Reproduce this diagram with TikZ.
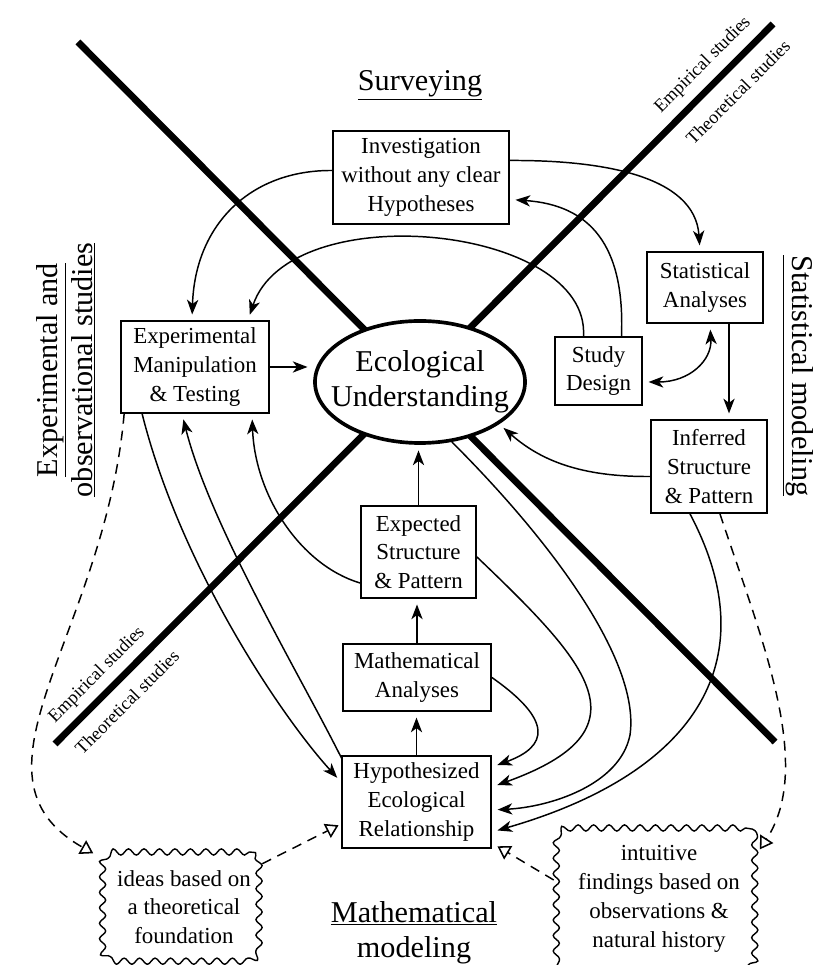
\documentclass[tikz,border=0pt]{standalone}
\usepackage{fontspec}
\setmainfont{Liberation Serif}
\usetikzlibrary{arrows.meta,positioning,shapes.geometric,decorations.pathmorphing}
\newcommand{\boxfont}{\fontsize{16.3}{20.5}\selectfont}
\newcommand{\headfont}{\fontsize{21.5}{25}\selectfont}
\newcommand{\ecofont}{\fontsize{21.5}{25}\selectfont}
\newcommand{\sidefont}{\fontsize{13}{15}\selectfont}

\begin{document}
\begin{tikzpicture}[
  x=0.025cm, y=0.025cm,
  >={Stealth[length=10.5pt,width=8pt,inset=3pt]},
  box/.style={draw,line width=1.2pt,fill=white,align=center,font=\boxfont,inner sep=2pt},
  cloudbox/.style={fill=white,align=center,font=\boxfont,inner sep=2pt,rounded corners=9pt,
    postaction={draw,line width=1pt,sharp corners,decorate,
      decoration={snake,amplitude=2.2pt,segment length=11pt}}},
  heading/.style={font=\headfont,align=center},
  sidelabel/.style={font=\sidefont,rotate=45},
  divider/.style={line width=4.8pt},
  arr/.style={->,line width=1.05pt,shorten >=4pt},
  dasharr/.style={-{Triangle[open,length=9pt,width=11pt,line width=1.1pt]},line width=1.05pt,
    dash pattern=on 7pt off 5pt,shorten >=2pt}
]
  \useasboundingbox (0,0) rectangle (815,965);

  % the two dividing lines
  \draw[divider] (78,923) -- (775,223);
  \draw[divider] (55,221) -- (773,941);

  % headings
  \node[heading] (surv) at (420,880) {\underline{Surveying}};
  \node[heading] (mathmod) at (414,31) {\underline{Mathematical}\\\underline{modeling}};
  \node[heading,rotate=90] (expobs) at (66,595) {\underline{Experimental and}\\\underline{observational studies}};
  \node[heading,rotate=-90] (statmod) at (798,589) {\underline{Statistical modeling}};

  \node[sidelabel] (emp1) at (703,900) {Empirical studies};
  \node[sidelabel] (theo1) at (738,873) {Theoretical studies};
  \node[sidelabel] (emp2) at (97,290) {Empirical studies};
  \node[sidelabel] (theo2) at (127,263) {Theoretical studies};

  % centre
  \node[draw,ellipse,line width=2.6pt,fill=white,font=\ecofont,align=center,
    minimum width=5.25cm,minimum height=3.05cm,inner xsep=-20pt,inner ysep=0pt] (eco) at (420,583)
    {Ecological\\Understanding};

  % boxes
  \node[box,minimum width=4.4cm,minimum height=2.33cm] (inv) at (421,787.5) {Investigation\\without any clear\\Hypotheses};
  \node[box,minimum width=3.7cm,minimum height=2.3cm] (exp) at (195,598) {Experimental\\Manipulation\\\& Testing};
  \node[box,minimum width=2.18cm,minimum height=1.7cm] (sd) at (598.5,594) {Study\\Design};
  \node[box,minimum width=2.9cm,minimum height=1.78cm] (sa) at (705,677.5) {Statistical\\Analyses};
  \node[box,minimum width=2.9cm,minimum height=2.33cm] (isp) at (709,498.5) {Inferred\\Structure\\\& Pattern};
  \node[box,minimum width=2.88cm,minimum height=2.3cm] (esp) at (418.5,413) {Expected\\Structure\\\& Pattern};
  \node[box,minimum width=3.7cm,minimum height=1.68cm] (ma) at (417,287.5) {Mathematical\\Analyses};
  \node[box,minimum width=3.73cm,minimum height=2.3cm] (her) at (416.5,163) {Hypothesized\\Ecological\\Relationship};

  % clouds
  \node[cloudbox,minimum width=3.9cm,minimum height=2.75cm] (lcl) at (184,58) {ideas based on\\a theoretical\\foundation};
  \node[cloudbox,minimum width=4.95cm,minimum height=3.55cm] (rcl) at (659,66) {intuitive\\findings based on\\observations \&\\natural history};

  % vertical chain
  \draw[arr] (her.north) -- (her.north |- ma.south);
  \draw[arr] (ma.north) -- (ma.north |- esp.south);
  \draw[arr] (esp.north) -- (esp.north |- eco.south);

  % surveying
  \draw[arr] ([shift={(0,7)}]inv.west) .. controls (250,795) and (195,740) .. ([shift={(-3,0)}]exp.north);
  \draw[arr] ([shift={(0,17)}]inv.east) .. controls (600,805) and (695,790) .. ([shift={(-5,0)}]sa.north);
  \draw[arr] ([shift={(23,0)}]sd.north) .. controls (625,720) and (590,760) .. ([shift={(0,-22)}]inv.east);
  \draw[arr] ([shift={(-15,0)}]sd.north) .. controls (590,740) and (290,770) .. ([shift={(53,0)}]exp.north);

  % statistical side
  \draw[<->,line width=1.05pt,shorten >=4pt,shorten <=4pt] ([shift={(0,-11)}]sd.east) .. controls (690,583) and (712,605) .. ([shift={(5,0)}]sa.south);
  \draw[arr] ([shift={(24,0)}]sa.south) -- ([shift={(20,0)}]isp.north);
  \draw[arr] ([shift={(0,-10)}]isp.west) .. controls (580,488) and (540,505) .. (eco.-28);

  % experimental side
  \draw[arr] (exp.east) -- (exp.east -| eco.west);
  \draw[arr] ([shift={(0,-31)}]esp.west) .. controls (300,400) and (255,470) .. ([shift={(57,0)}]exp.south);
  \draw[arr] ([shift={(22,0)}]exp.south west) .. controls (180,400) and (280,250) .. ([shift={(0,20)}]her.west);
  \draw[arr] ([shift={(1,-4)}]her.north west) .. controls (300,290) and (210,440) .. ([shift={(-13,0)}]exp.south);

  % back to the hypotheses
  \draw[arr] (ma.east) .. controls +(-35:75) and +(20:60) .. ([shift={(0,35)}]her.east);
  \draw[arr] ([shift={(0,-5)}]esp.east) .. controls (590,300) and (650,235) .. ([shift={(0,15)}]her.east);
  \draw[arr] (eco.-62) .. controls (560,415) and (640,300) .. (630,230)
    .. controls (620,180) and (550,158) .. ([shift={(0,-8)}]her.east);
  \draw[arr] ([shift={(-19,0)}]isp.south) .. controls (770,300) and (690,190) .. ([shift={(0,-30)}]her.east);

  % dashed links to the clouds
  \draw[dasharr] ([shift={(4,0)}]exp.south west) .. controls (105,330) and (-45,190) .. ([shift={(-10,-3)}]lcl.north west);
  \draw[dasharr] ([shift={(11,0)}]isp.south) .. controls (760,330) and (815,200) .. ([shift={(0,-24)}]rcl.north east);
  \draw[dasharr] ([shift={(0,-12)}]lcl.north east) -- ([shift={(0,-22)}]her.west);
  \draw[dasharr] ([shift={(-6,19)}]rcl.west) -- ([shift={(3,4)}]her.south east);
\end{tikzpicture}
\end{document}
